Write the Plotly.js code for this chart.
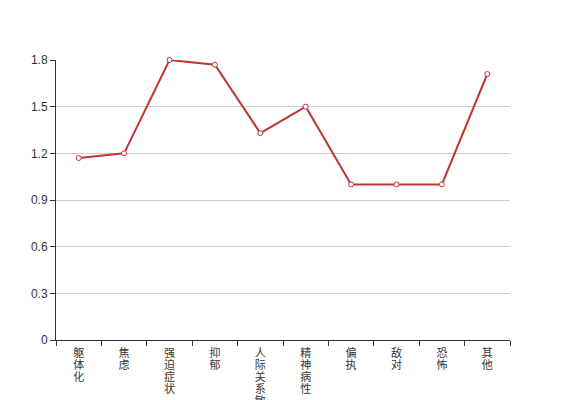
<!DOCTYPE html>
<html>
<head>
<meta charset="utf-8">
<script src="https://cdn.plot.ly/plotly-3.0.1.min.js"></script>
<style>html,body{margin:0;padding:0;background:#fff;}#chart{width:567px;height:400px;}</style>
</head>
<body>
<div id="chart"></div>
<script>
const categories = ["躯体化", "焦虑", "强迫症状", "抑郁", "人际关系敏感", "精神病性", "偏执", "敌对", "恐怖", "其他"];
const values = [1.17, 1.2, 1.8, 1.77, 1.33, 1.5, 1.0, 1.0, 1.0, 1.71];
const yTicks = [0, 0.3, 0.6, 0.9, 1.2, 1.5, 1.8];
const yTickLabels = ["0", "0.3", "0.6", "0.9", "1.2", "1.5", "1.8"];

const verticalLabels = categories.map(c => Array.from(c).join("<br>"));
const FONT = "Liberation Sans, Noto Sans CJK SC, sans-serif";
const X_LABEL_SIZE = 11;
const X_LINE_PX = 12;

const trace = {
  type: "scatter",
  mode: "lines+markers",
  x: categories,
  y: values,
  cliponaxis: false,
  line: {color: "#c23531", width: 2},
  marker: {symbol: "circle", size: 5, color: "#ffffff", line: {color: "#c23531", width: 1}},
  hoverinfo: "x+y"
};

const layout = {
  width: 567,
  height: 400,
  margin: {l: 56, r: 57, t: 60, b: 60},
  paper_bgcolor: "#ffffff",
  plot_bgcolor: "#ffffff",
  showlegend: false,
  font: {family: FONT, size: 12, color: "#333"},
  xaxis: {
    type: "category",
    tickmode: "array",
    tickvals: categories,
    ticktext: verticalLabels,
    tickson: "boundaries",
    ticks: "outside",
    ticklen: 5,
    tickcolor: "#333",
    showline: true,
    linecolor: "#333",
    linewidth: 1,
    showgrid: false,
    zeroline: false,
    tickangle: 0,
    ticklabelstandoff: 3,
    tickfont: {family: FONT, size: X_LABEL_SIZE, color: "#333"},
    range: [-0.5, 9.5],
    fixedrange: true
  },
  yaxis: {
    range: [0, 1.8],
    tickmode: "array",
    tickvals: yTicks,
    ticktext: yTickLabels,
    ticks: "outside",
    ticklen: 5,
    tickcolor: "#333",
    showline: true,
    linecolor: "#333",
    linewidth: 1,
    showgrid: true,
    gridcolor: "#cccccc",
    gridwidth: 1,
    zeroline: false,
    tickfont: {family: FONT, size: 12, color: "#333"},
    fixedrange: true
  }
};

Plotly.newPlot("chart", [trace], layout, {displayModeBar: false, staticPlot: true}).then(function (gd) {
  // tighten line spacing of the stacked (vertical) category labels
  const factor = X_LINE_PX / X_LABEL_SIZE / 1.3;
  gd.querySelectorAll(".xtick text tspan.line").forEach(function (t) {
    const dy = t.getAttribute("dy");
    if (dy && dy.endsWith("em")) {
      t.setAttribute("dy", (parseFloat(dy) * factor) + "em");
    }
  });
});
</script>
</body>
</html>
